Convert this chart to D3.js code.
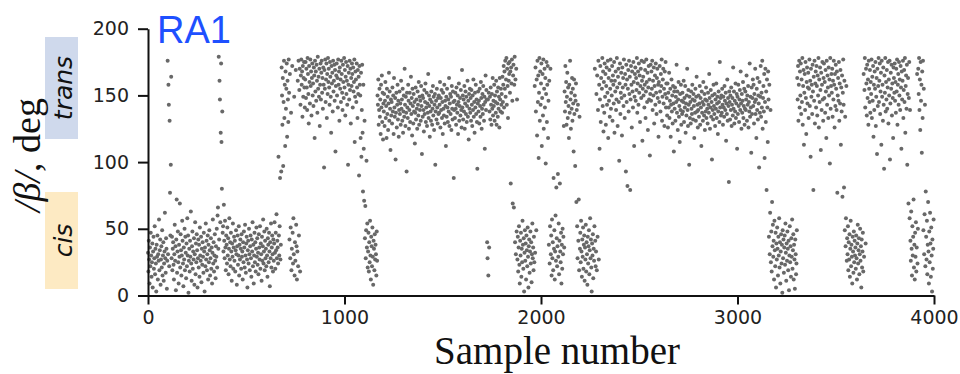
<!DOCTYPE html>
<html>
<head>
<meta charset="utf-8">
<script src="https://cdn.jsdelivr.net/npm/d3@7"></script>
<style>
  body { margin: 0; background: #fff; }
  svg { display: block; }
  .axis path, .axis line { stroke: #111; stroke-width: 2; }
  .axis text { font-family: "DejaVu Sans", sans-serif; font-size: 19px; fill: #222; }
</style>
</head>
<body>
<div id="chart"></div>
<script>
// |beta| in degrees, one reading every second sample (sample = index * sampleStep)
const sampleStep = 2;
const betaDeg = [
  32,18,41,27,9,36,22,47,30,14,25,39,6,33,44,20,28,52,16,35,
  24,3,38,29,45,12,31,26,57,19,34,42,8,27,37,21,49,15,30,40,
  11,24,33,62,28,17,43,35,5,26,176,31,158,143,22,131,77,45,98,164,
  28,44,19,35,40,23,12,31,53,26,37,4,42,72,17,33,48,25,9,38,
  29,69,21,46,34,15,30,56,41,24,7,36,27,50,19,44,32,13,39,22,
  58,30,45,2,26,35,18,41,29,63,24,11,37,48,20,33,27,43,8,31,
  55,16,39,25,46,34,6,28,42,21,38,14,51,30,26,44,10,35,23,40,
  29,17,47,33,3,36,22,54,27,41,19,31,45,12,38,25,49,34,15,28,
  43,20,36,9,32,57,24,40,18,30,46,26,13,37,29,50,21,60,66,35,
  179,42,161,147,55,122,174,115,80,138,47,52,33,68,41,28,56,36,19,45,
  38,24,51,30,43,16,35,58,27,40,22,47,33,11,39,29,54,20,36,44,
  26,41,18,34,49,31,8,37,45,23,30,52,15,38,27,42,35,20,46,29,
  33,12,40,25,48,36,21,53,30,17,39,44,27,6,34,41,24,50,31,19,
  37,45,28,14,42,33,55,22,38,9,30,47,25,40,18,35,51,29,43,23,
  32,16,46,36,27,52,20,39,31,11,44,26,37,57,24,33,48,19,41,28,
  35,22,50,30,14,43,38,25,47,33,7,40,28,54,21,36,45,31,18,42,
  26,39,55,32,20,47,34,61,28,41,36,24,104,45,30,52,88,27,38,93,
  171,150,128,163,97,145,176,133,158,112,168,140,155,174,119,161,147,130,177,152,
  42,166,28,51,137,19,35,172,47,24,58,31,149,15,40,26,169,53,37,12,
  33,161,22,176,45,154,170,18,143,165,177,158,168,134,172,149,163,175,156,141,
  // 800 - 1080
  162,175,148,170,156,139,178,166,151,129,172,160,144,177,157,168,135,163,174,150,
  159,142,171,165,118,176,153,168,146,173,161,137,179,155,164,149,170,127,158,174,
  147,167,176,152,163,140,171,158,96,169,155,177,145,162,174,133,166,151,178,160,
  170,156,143,175,164,149,122,172,159,167,138,176,153,161,173,146,169,108,157,165,
  174,150,163,141,177,158,168,131,171,155,162,145,176,166,152,139,173,160,148,178,
  156,169,135,164,175,151,161,143,172,98,158,167,147,176,154,170,129,163,157,174,
  166,141,171,153,160,177,115,149,168,162,145,174,156,133,169,151,164,90,172,158,
  // 1080 - 1200
  150,118,167,104,139,173,122,78,158,110,71,131,43,67,28,49,101,36,54,21,
  33,47,18,40,25,56,30,12,44,37,22,51,29,8,41,35,19,46,27,38,
  31,15,48,26,150,143,162,128,139,155,134,147,121,158,141,165,130,152,117,144,
  // 1200 - 1800
  138,151,127,146,160,133,142,118,155,136,149,124,144,167,131,153,140,109,147,135,
  145,129,156,138,150,121,163,141,134,148,102,137,152,126,143,158,132,146,119,139,
  153,136,144,128,161,140,147,131,155,122,138,150,134,170,143,127,149,137,93,152,
  141,133,158,146,125,139,152,130,144,164,136,148,120,155,142,129,151,138,145,114,
  137,156,132,147,140,125,153,143,135,160,128,149,139,146,131,157,142,106,150,134,
  148,139,123,154,136,145,159,130,141,152,127,144,137,166,133,150,142,119,147,138,
  131,153,145,128,140,157,135,149,124,143,151,98,138,146,132,155,141,129,148,136,
  150,137,143,160,126,148,139,154,133,145,121,152,140,135,158,129,146,142,112,149,
  134,155,141,130,147,138,163,127,144,151,136,149,124,157,140,132,153,145,88,139,
  146,133,152,140,128,156,143,137,150,121,145,159,131,142,148,135,154,139,126,169,
  141,150,132,147,138,157,125,144,153,136,149,130,142,161,134,146,117,151,140,155,
  137,148,131,154,143,127,150,139,162,134,145,122,152,141,158,136,147,130,95,144,
  153,138,146,129,155,142,134,160,148,125,140,151,136,157,143,131,149,110,145,165,
  139,154,147,40,28,147,15,152,36,138,149,132,156,143,128,151,140,163,135,146,
  142,158,131,150,145,137,161,128,153,144,134,156,140,149,126,163,147,138,155,143,
  // 1800 - 2000
  151,137,164,145,158,172,141,168,155,176,149,162,178,143,170,157,133,174,161,166,
  175,152,168,84,171,159,177,146,69,165,173,66,158,179,40,162,31,170,48,147,
  27,44,18,36,52,23,9,41,30,47,14,35,25,56,38,20,43,3,32,49,
  26,39,12,45,34,22,51,29,6,37,42,17,33,48,24,40,10,31,54,28,
  36,19,44,25,157,32,171,138,49,162,120,176,145,165,103,152,178,131,168,143,
  // 2000 - 2320
  159,174,112,148,166,135,177,125,155,170,141,163,99,151,175,130,158,172,118,146,
  38,161,24,52,170,31,45,15,57,28,40,19,88,35,49,12,33,60,26,81,
  43,22,37,91,29,54,16,41,84,33,25,47,9,38,20,50,31,44,127,36,
  153,138,172,145,160,128,149,167,133,156,142,118,158,137,176,147,125,152,140,163,
  131,155,144,108,162,136,150,97,146,159,70,139,52,28,143,41,72,19,134,35,
  47,25,56,33,14,42,29,51,20,38,45,11,36,27,53,18,40,31,8,44,
  24,37,49,16,34,58,28,42,21,3,39,30,46,13,35,26,52,170,41,22,
  33,151,19,165,44,139,176,27,158,110,147,172,130,163,95,155,178,142,168,123,
  // 2320 - 2640
  160,137,174,149,166,128,157,171,143,152,176,118,163,146,169,134,155,177,140,161,
  150,172,131,165,158,144,175,122,161,153,168,139,147,178,156,127,164,170,145,101,
  159,174,136,152,167,148,120,171,156,163,142,177,150,133,166,158,93,173,145,162,
  82,155,169,138,176,151,164,79,147,172,158,126,168,153,141,175,160,112,149,166,
  171,146,163,154,178,137,159,168,143,174,152,165,130,157,170,148,176,161,116,155,
  164,150,175,141,158,169,133,153,177,160,145,167,124,156,172,147,162,105,151,173,
  146,168,155,176,139,161,150,171,129,157,165,143,174,152,136,163,170,148,158,119,
  160,145,172,153,138,166,157,177,131,149,162,170,144,155,127,168,151,175,141,159,
  // 2640 - 3160
  148,135,159,126,152,141,167,133,146,155,119,143,162,138,150,129,157,144,108,153,
  140,156,131,149,145,173,137,153,124,147,160,134,142,115,151,139,158,128,146,136,
  152,138,145,161,130,148,141,157,122,144,135,150,170,139,127,154,143,98,149,133,
  145,129,153,140,136,158,147,132,151,142,118,146,137,155,131,149,164,138,143,126,
  139,150,134,144,157,128,148,141,112,153,137,145,131,160,143,135,151,124,147,138,
  156,133,146,140,129,152,143,137,166,148,125,141,154,134,145,102,150,139,132,158,
  142,136,151,127,147,140,159,133,144,149,121,138,153,145,130,175,141,148,135,150,
  137,155,143,128,149,141,134,157,146,139,152,116,144,136,162,131,148,142,85,153,
  145,132,150,139,156,127,143,148,135,171,140,153,129,146,138,159,133,144,151,110,
  149,136,158,142,130,147,154,139,168,144,125,151,137,146,160,133,142,155,128,140,
  153,139,147,165,131,150,143,157,126,145,138,174,134,149,141,107,156,136,148,162,
  142,158,129,151,145,170,136,147,118,155,139,163,132,150,144,96,160,137,149,172,
  134,152,141,176,125,148,157,138,166,103,145,170,130,153,79,162,141,115,168,147,
  // 3160 - 3320
  44,158,31,62,139,25,48,18,70,37,53,29,41,12,56,34,22,47,6,39,
  27,51,35,15,44,30,58,21,40,9,33,46,24,38,2,49,28,42,17,36,
  45,23,54,32,11,39,26,48,35,19,41,4,30,52,25,37,14,43,29,57,
  20,34,46,12,38,27,5,42,31,16,24,49,163,147,172,131,158,176,141,168,
  // 3320 - 3560
  150,174,136,162,145,178,128,157,169,113,152,166,139,175,148,121,160,171,144,156,
  167,133,155,177,142,161,104,170,149,158,136,173,153,79,164,146,176,129,159,168,
  141,172,157,135,165,150,178,126,162,145,171,154,109,167,139,158,175,147,131,163,
  174,148,160,137,169,153,118,176,143,165,156,133,171,150,162,99,178,140,157,166,
  152,170,134,161,147,176,158,126,166,142,173,155,139,168,77,150,163,146,175,131,
  159,144,169,113,156,138,165,74,152,177,143,81,161,49,134,37,58,157,26,43,
  // 3560 - 4000
  31,52,19,40,27,46,14,35,56,22,38,29,9,44,33,17,48,25,41,30,
  36,20,45,28,12,39,53,24,34,43,16,31,50,26,37,6,42,21,33,47,
  18,166,29,154,178,141,39,170,159,135,173,148,162,128,176,155,145,169,137,160,
  151,177,133,164,146,172,119,158,139,168,155,175,127,149,163,106,170,142,157,178,
  145,161,174,136,153,167,113,176,149,158,131,171,143,95,165,152,178,138,160,147,
  169,140,156,175,129,162,150,176,102,144,167,155,173,135,159,148,118,171,163,152,
  174,146,160,137,170,153,177,128,158,166,143,175,150,162,139,172,156,110,168,147,
  161,176,133,154,169,145,178,122,157,165,140,173,98,151,163,69,148,175,58,139,
  41,26,63,35,15,52,30,44,72,21,38,12,47,29,55,18,36,166,24,50,
  170,151,178,139,162,124,175,146,158,107,168,133,176,49,155,31,61,143,22,78,
  44,27,56,16,38,70,33,9,48,25,62,39,14,51,30,3,42,20,35,57
];

const xTicks = [0, 1000, 2000, 3000, 4000];
const yTicks = [0, 50, 100, 150, 200];
const stateLabels = ['trans', 'cis'];
const panelTitle = 'RA1';

// container
const width = 960;
const height = 374;

let svg = d3.select('#chart')
    .append('svg')
    .attr('width', width)
    .attr('height', height);

// scales
let xScale = d3.scaleLinear()
    .domain([0, 4000])
    .range([148, 934]);

let yScale = d3.scaleLinear()
    .domain([0, 200])
    .range([295.5, 28.7]);

// state bands
let bands = [
    { label: stateLabels[0], y: 37, h: 102, fill: '#cfd9ec' },
    { label: stateLabels[1], y: 192, h: 97, fill: '#fdeac3' }
];

let bandGroup = svg.append('g');
bands.forEach(b => {
    bandGroup.append('rect')
        .attr('x', 45)
        .attr('y', b.y)
        .attr('width', 33)
        .attr('height', b.h)
        .attr('fill', b.fill);
    bandGroup.append('text')
        .attr('transform', `translate(72,${b.y + b.h / 2}) rotate(-90)`)
        .attr('text-anchor', 'middle')
        .style('font-family', '"DejaVu Sans", sans-serif')
        .style('font-style', 'italic')
        .style('font-size', '25px')
        .style('fill', '#111')
        .text(b.label);
});

// points
svg.append('g')
    .classed('points', true)
    .selectAll('circle')
    .data(betaDeg)
    .join('circle')
    .attr('cx', (d, i) => xScale(i * sampleStep))
    .attr('cy', d => yScale(d))
    .attr('r', 2)
    .attr('fill', '#686868');

// x axis
svg.append('g')
    .classed('axis', true)
    .attr('transform', `translate(0,${yScale(0)})`)
    .call(d3.axisBottom(xScale).tickValues(xTicks).tickFormat(d3.format('d'))
        .tickSize(9).tickPadding(6).tickSizeOuter(0));

// y axis
svg.append('g')
    .classed('axis', true)
    .attr('transform', `translate(${xScale(0)},0)`)
    .call(d3.axisLeft(yScale).tickValues(yTicks).tickSize(10).tickPadding(9).tickSizeOuter(0));

// titles
svg.append('text')
    .attr('x', 157)
    .attr('y', 43)
    .style('font-family', '"Liberation Sans", Arial, sans-serif')
    .style('font-size', '38px')
    .style('fill', '#1e50ff')
    .text(panelTitle);

svg.append('text')
    .attr('x', 557)
    .attr('y', 364)
    .attr('text-anchor', 'middle')
    .style('font-family', '"Liberation Serif", "Times New Roman", serif')
    .style('font-size', '39px')
    .style('fill', '#111')
    .text('Sample number');

let yLabel = svg.append('text')
    .attr('transform', 'translate(40,155) rotate(-90)')
    .attr('text-anchor', 'middle')
    .style('font-family', '"Liberation Serif", "Times New Roman", serif')
    .style('font-size', '38px')
    .style('fill', '#111');
yLabel.append('tspan').style('font-style', 'italic').text('/β/');
yLabel.append('tspan').text(', deg');
</script>
</body>
</html>
